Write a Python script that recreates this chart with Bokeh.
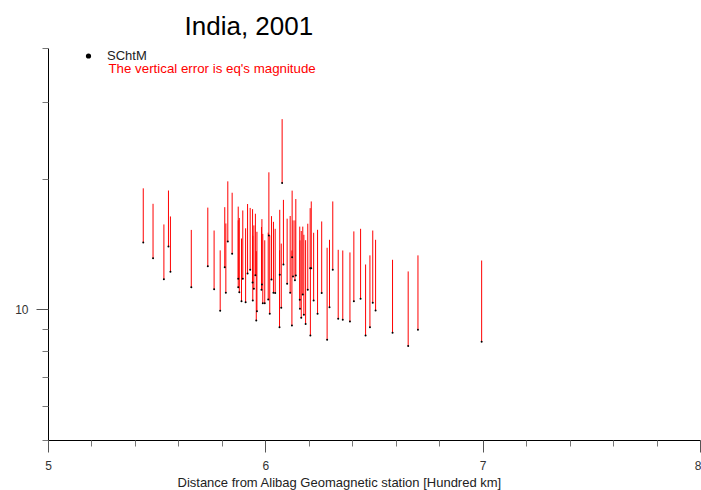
from bokeh.plotting import figure
from bokeh.models import (ColumnDataSource, FixedTicker, Legend, LegendItem,
                          Label, Range1d, BasicTickFormatter, Title)
from bokeh.embed import file_html
from bokeh.resources import INLINE

FONT = "Liberation Sans"

# Distance from Alibag Geomagnetic station [Hundred km]
distance = [5.436, 5.481, 5.531, 5.552, 5.561, 5.657, 5.733, 5.762, 5.790,
            5.811, 5.816, 5.825, 5.845,
            5.873, 5.878, 5.873, 5.894, 5.888, 5.907, 5.916, 5.928, 5.939,
            5.940, 5.945, 5.952, 5.959, 5.956, 5.982, 5.980, 5.995, 5.986,
            6.014, 6.011, 6.018, 6.026, 6.035, 6.043, 6.064, 6.063, 6.071,
            6.075, 6.081, 6.098, 6.112, 6.121, 6.120, 6.125, 6.138, 6.134,
            6.156, 6.157, 6.163, 6.170, 6.175, 6.183, 6.193, 6.204, 6.209,
            6.205, 6.220, 6.238, 6.257, 6.282, 6.293, 6.308,
            6.333, 6.354, 6.387, 6.405, 6.436, 6.459, 6.479, 6.492, 6.505,
            6.583, 6.655, 6.700, 6.993]
# SChtM values
schtm = [14.3, 13.15, 11.76, 14.0, 12.24, 11.28, 12.6, 11.16, 9.95,
         12.54, 10.95, 14.37, 13.47,
         11.79, 10.98, 11.28, 11.79, 10.46, 10.41, 12.13, 12.37, 11.56,
         10.51, 11.18, 12.02, 9.93, 9.45, 11.44, 11.12, 10.36, 10.36,
         14.84, 10.56, 9.79, 11.75, 10.95, 10.93, 12.04, 9.12, 10.11,
         19.6, 12.72, 11.48, 10.95, 13.22, 9.2, 11.93, 12.0, 11.7,
         10.55, 10.06, 9.59, 10.85, 9.74, 9.27, 11.12, 12.47, 12.47,
         8.73, 10.51, 9.79, 10.93, 8.53, 10.14, 12.37,
         9.54, 9.49, 9.40, 10.46, 10.61, 8.73, 9.12, 10.38, 9.96,
         8.85, 8.25, 9.0, 8.44]
# earthquake magnitude (vertical error)
magnitude = [4.75, 4.4, 3.97, 4.83, 4.17, 4.0, 4.6, 4.07, 3.76,
             4.7, 4.86, 5.4, 5.14,
             5.5, 5.3, 4.8, 5.15, 4.14, 5.0, 5.4, 4.8, 5.5,
             4.3, 4.47, 4.63, 5.2, 4.2, 4.74, 4.4, 4.1, 4.6,
             5.9, 4.5, 5.05, 4.69, 5.0, 4.44, 4.96, 4.6, 4.1,
             7.9, 5.2, 4.74, 5.5, 5.6, 4.5, 4.14, 6.0, 4.37,
             5.0, 4.4, 5.6, 4.7, 5.15, 5.2, 4.67, 4.68, 5.3,
             3.8, 4.54, 5.5, 5.05, 5.37, 4.36, 5.4,
             4.21, 4.21, 4.16, 4.7, 4.76, 3.99, 4.23, 4.85, 4.54,
             4.19, 4.01, 4.35, 4.55]

x_major = [5, 6, 7, 8]
x_minor = [5.2, 5.4, 5.6, 5.8, 6.2, 6.4, 6.6, 6.8, 7.2, 7.4, 7.6, 7.8]
y_major = [10]
y_minor = [5, 6, 7, 8, 9, 20, 30, 40]

top = [s + m for s, m in zip(schtm, magnitude)]
src = ColumnDataSource(dict(x=distance, y=schtm, top=top))

p = figure(width=701, height=490, x_range=Range1d(5, 8), y_range=Range1d(5, 40),
           y_axis_type="log", output_backend="svg", toolbar_location=None,
           min_border_left=48, min_border_right=1, min_border_top=48,
           min_border_bottom=50)
p.outline_line_color = None
p.xgrid.visible = False
p.ygrid.visible = False

p.title.text = "India, 2001"
p.title.text_font = FONT
p.title.text_font_size = "26px"
p.title.text_font_style = "normal"
p.title.text_color = "black"
p.title.align = "left"
p.title.offset = 136
p.title.standoff = 16

p.segment(x0="x", y0="y", x1="x", y1="top", source=src, line_color="#ff0000",
          line_width=1)
pts = p.scatter("x", "y", source=src, size=2, fill_color="black",
                line_color=None)

for ax in (p.xaxis[0], p.yaxis[0]):
    ax.axis_line_color = "black"
    ax.major_tick_line_color = "#555555"
    ax.minor_tick_line_color = "#777777"
    ax.major_tick_out = 12
    ax.major_tick_in = 0
    ax.minor_tick_out = 6
    ax.minor_tick_in = 0
    ax.major_label_text_font = FONT
    ax.major_label_text_font_size = "12px"
    ax.major_label_text_color = "#333333"

p.xaxis.ticker = FixedTicker(ticks=x_major, minor_ticks=x_minor)
p.xaxis.major_label_standoff = 8
p.yaxis.ticker = FixedTicker(ticks=y_major, minor_ticks=y_minor)
p.yaxis.formatter = BasicTickFormatter()
p.yaxis.major_label_standoff = 8

p.add_layout(Title(text="Distance from Alibag Geomagnetic station [Hundred km]",
                   text_font=FONT, text_font_size="13px",
                   text_font_style="normal", text_color="#222222",
                   align="left", offset=129, standoff=0), "below")

legend = Legend(items=[LegendItem(label="SChtM", renderers=[pts])],
                location=(30, 377), padding=0, margin=0, spacing=0,
                glyph_width=20, glyph_height=13, label_height=13,
                label_standoff=9, label_text_font=FONT,
                label_text_font_size="13px", label_text_color="#222222",
                border_line_color=None, background_fill_alpha=0)
p.add_layout(legend)

p.add_layout(Label(x=60, y=372, x_units="screen", y_units="screen",
                   text="The vertical error is eq's magnitude",
                   text_font=FONT, text_font_size="13.3px", text_color="#ff0000",
                   text_baseline="middle"))

open("out.html", "w").write(file_html(p, INLINE))
